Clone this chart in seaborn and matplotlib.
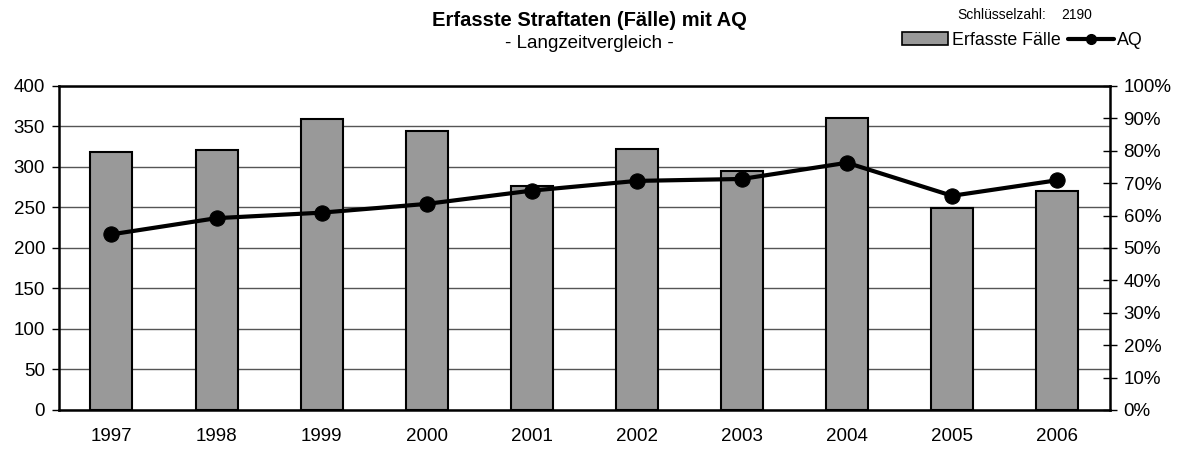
import seaborn as sns
import numpy as np
import pandas as pd
import matplotlib.pyplot as plt
from matplotlib.patches import Patch
from matplotlib.lines import Line2D
from matplotlib.ticker import PercentFormatter, FixedLocator

# Data
years = ['1997', '1998', '1999', '2000', '2001', '2002', '2003', '2004', '2005', '2006']
faelle = [318, 321, 359, 344, 277, 322, 295, 360, 249, 270]
aq = [54.2, 59.2, 60.9, 63.6, 67.7, 70.7, 71.3, 76.3, 66.1, 70.9]

sns.set_style('white')
plt.rcParams['font.family'] = ['Liberation Sans', 'DejaVu Sans']
plt.rcParams['text.color'] = 'black'
plt.rcParams['xtick.color'] = 'black'
plt.rcParams['ytick.color'] = 'black'

df = pd.DataFrame({'Jahr': years, 'Faelle': faelle, 'AQ': aq})

fig = plt.figure(figsize=(11.78, 4.49), dpi=100)
ax = fig.add_axes([0.050, 0.087, 0.892, 0.7215])

# Bars
sns.barplot(data=df, x='Jahr', y='Faelle', ax=ax, color='#999999',
            saturation=1, width=0.4, edgecolor='black', linewidth=1.5, zorder=3)
ax.set_xlim(-0.5, 9.5)
ax.set_ylim(0, 400)
ax.set_yticks(range(0, 401, 50))
ax.yaxis.grid(True, color='#555555', linewidth=1, zorder=0)
ax.set_axisbelow(True)
ax.set_xlabel('')
ax.set_ylabel('')
for s in ax.spines.values():
    s.set_color('black')
    s.set_linewidth(1.8)
ax.tick_params(axis='y', direction='out', length=5, width=1, pad=5, labelsize=13.5)
ax.tick_params(axis='x', which='major', length=0, pad=13, labelsize=13.5)
ax.xaxis.set_minor_locator(FixedLocator(np.arange(-0.5, 10, 1)))
ax.tick_params(axis='x', which='minor', direction='inout', length=10, width=1)

# Line on secondary axis
ax2 = ax.twinx()
sns.lineplot(x=np.arange(len(years)), y=df['AQ'], ax=ax2, color='black',
             linewidth=3, marker='o', markersize=11, markeredgecolor='black', zorder=5)
ax2.set_ylim(0, 100)
ax2.set_yticks(range(0, 101, 10))
ax2.yaxis.set_major_formatter(PercentFormatter(decimals=0))
ax2.set_ylabel('')
ax2.tick_params(axis='y', direction='inout', length=10, width=1, pad=5, labelsize=13.5)
for s in ax2.spines.values():
    s.set_visible(False)

# Titles
fig.text(0.5, 0.955, 'Erfasste Straftaten (Fälle) mit AQ', ha='center', va='center',
         fontsize=14.5, fontweight='bold')
fig.text(0.5, 0.903, '- Langzeitvergleich -', ha='center', va='center', fontsize=13.5)
fig.text(0.813, 0.967, 'Schlüsselzahl:', ha='left', va='center', fontsize=10)
fig.text(0.901, 0.967, '2190', ha='left', va='center', fontsize=10)

# Legend
handles = [Patch(facecolor='#999999', edgecolor='black', linewidth=1.2),
           Line2D([0], [0], color='black', linewidth=3, marker='o', markersize=7)]
fig.legend(handles, ['Erfasste Fälle', 'AQ'], loc='center', bbox_to_anchor=(0.868, 0.91),
           ncol=2, frameon=False, fontsize=12.8, handlelength=2.6, handleheight=0.75,
           handletextpad=0.2, columnspacing=0.4, borderaxespad=0)

fig.savefig('out.png', dpi=100)
